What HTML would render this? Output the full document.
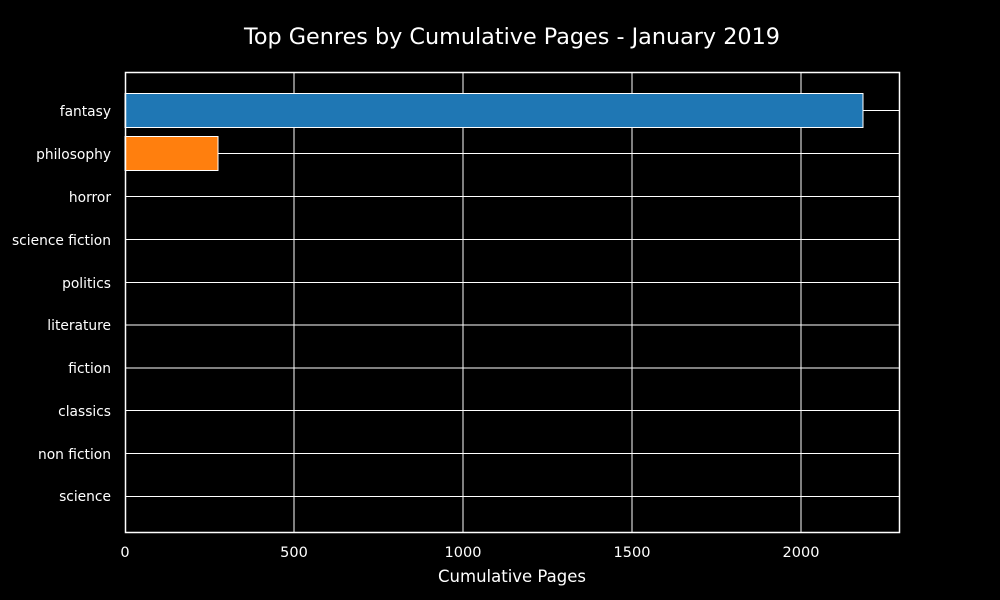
<!DOCTYPE html>
<html><head><style>html,body{margin:0;background:#000;overflow:hidden}svg{display:block}</style></head><body>
<svg width="1000" height="600" xmlns="http://www.w3.org/2000/svg" font-family="'DejaVu Sans', sans-serif">
<rect width="1000" height="600" fill="#000"/>
<g stroke="#fff" stroke-width="1">
<line x1="294" y1="72" x2="294" y2="533"/>
<line x1="463" y1="72" x2="463" y2="533"/>
<line x1="632" y1="72" x2="632" y2="533"/>
<line x1="801" y1="72" x2="801" y2="533"/>
<line x1="125" y1="110.5" x2="900" y2="110.5"/>
<line x1="125" y1="153.5" x2="900" y2="153.5"/>
<line x1="125" y1="196.5" x2="900" y2="196.5"/>
<line x1="125" y1="239.5" x2="900" y2="239.5"/>
<line x1="125" y1="282.5" x2="900" y2="282.5"/>
<line x1="125" y1="325" x2="900" y2="325"/>
<line x1="125" y1="368" x2="900" y2="368"/>
<line x1="125" y1="410.5" x2="900" y2="410.5"/>
<line x1="125" y1="453.5" x2="900" y2="453.5"/>
<line x1="125" y1="496.5" x2="900" y2="496.5"/>
</g>
<rect x="125" y="93.5" width="738" height="34" fill="#1f77b4" stroke="#fff"/>
<rect x="125" y="136.5" width="93" height="34" fill="#ff7f0e" stroke="#fff"/>
<rect x="125.5" y="72.5" width="774" height="460" fill="none" stroke="#fff" stroke-width="1.5"/>
<g fill="#fff" font-size="13.8" text-anchor="end">
<text x="111" y="116">fantasy</text>
<text x="111" y="159">philosophy</text>
<text x="111" y="202">horror</text>
<text x="111" y="245">science fiction</text>
<text x="111" y="288">politics</text>
<text x="111" y="330">literature</text>
<text x="111" y="373">fiction</text>
<text x="111" y="416">classics</text>
<text x="111" y="459">non fiction</text>
<text x="111" y="501">science</text>
</g>
<g fill="#fff" font-size="14.5" text-anchor="middle">
<text x="125" y="557">0</text>
<text x="294" y="557">500</text>
<text x="463" y="557">1000</text>
<text x="632" y="557">1500</text>
<text x="801" y="557">2000</text>
<text x="512" y="582" font-size="16.5">Cumulative Pages</text>
<text x="512" y="44" font-size="22.3">Top Genres by Cumulative Pages - January 2019</text>
</g>
</svg>
</body></html>
